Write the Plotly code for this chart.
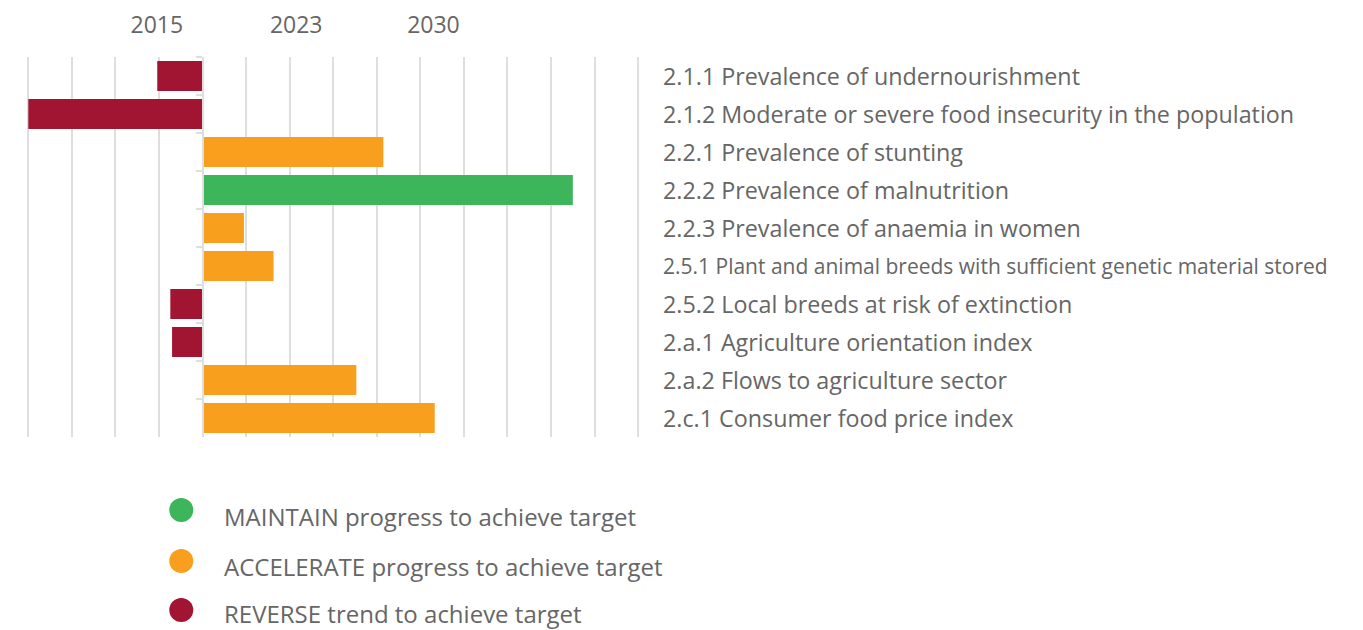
import plotly.graph_objects as go

# ---- data ----
categories = [
    "2.1.1 Prevalence of undernourishment",
    "2.1.2 Moderate or severe food insecurity in the population",
    "2.2.1 Prevalence of stunting",
    "2.2.2 Prevalence of malnutrition",
    "2.2.3 Prevalence of anaemia in women",
    "2.5.1 Plant and animal breeds with sufficient genetic material stored",
    "2.5.2 Local breeds at risk of extinction",
    "2.a.1 Agriculture orientation index",
    "2.a.2 Flows to agriculture sector",
    "2.c.1 Consumer food price index",
]
values = [-1.04, -4.0, 4.15, 8.5, 0.95, 1.63, -0.74, -0.70, 3.53, 5.33]
status = ["REVERSE", "REVERSE", "ACCELERATE", "MAINTAIN", "ACCELERATE",
          "ACCELERATE", "REVERSE", "REVERSE", "ACCELERATE", "ACCELERATE"]
year_labels = ["2015", "2023", "2030"]
year_positions = [-1.05, 2.15, 5.3]
legend_order = ["MAINTAIN", "ACCELERATE", "REVERSE"]
legend_texts = {
    "MAINTAIN": "MAINTAIN progress to achieve target",
    "ACCELERATE": "ACCELERATE progress to achieve target",
    "REVERSE": "REVERSE trend to achieve target",
}

# ---- styles ----
colors = {"MAINTAIN": "#3DB55A", "ACCELERATE": "#F89F1E", "REVERSE": "#A11532"}
text_color = "#666666"
grid_color = "#DEDEDE"
font_family = "Open Sans, Lato, sans-serif"

OFF = 8  # page body margin in the browser
W, H = 1363, 630
grid_min, grid_max = -4, 10
pad = 0.03
x_range = [grid_min - pad, grid_max + pad]
px_per_unit = (638 - 28) / (grid_max - grid_min)
plot_left_px = 28 - pad * px_per_unit
plot_right_px = 638 + pad * px_per_unit
plot_top_px, plot_bottom_px = 57, 437
ML = plot_left_px - OFF
MT = plot_top_px - OFF
MB = H - (plot_bottom_px - OFF)
MR = 20
paper_w = W - ML - MR
paper_h = H - MT - MB
dom_end = (plot_right_px - plot_left_px) / paper_w
zero_pos = (0 - x_range[0]) / (x_range[1] - x_range[0]) * dom_end


def px_to_paper_x(px):
    return (px - OFF - ML) / paper_w


def px_to_paper_y(py):
    return (H - MB - (py - OFF)) / paper_h


fig = go.Figure()

for s in legend_order:
    xs = [v for v, st in zip(values, status) if st == s]
    ys = [c for c, st in zip(categories, status) if st == s]
    fig.add_trace(go.Bar(
        x=xs, y=ys, orientation="h", name=legend_texts[s],
        marker=dict(color=colors[s], line=dict(width=0)),
        showlegend=False, hoverinfo="x+y",
    ))

# invisible trace to activate the top axis
fig.add_trace(go.Scatter(x=[None], y=[None], xaxis="x2", showlegend=False,
                         hoverinfo="skip"))

# category labels on the right
label_x = px_to_paper_x(661)
for c in categories:
    size = 21 if len(c) > 60 else 23.3
    fig.add_annotation(
        x=label_x, xref="paper", y=c, yref="y",
        text=c, showarrow=False, xanchor="left", yanchor="middle",
        font=dict(size=size, color=text_color, family=font_family),
    )

# legend (drawn as circles + text)
legend_marker_y = [510, 561, 610]
legend_text_y = [516, 566, 613]
for s, my, ty in zip(legend_order, legend_marker_y, legend_text_y):
    fig.add_shape(
        type="circle", xref="paper", yref="paper",
        xsizemode="pixel", ysizemode="pixel",
        xanchor=px_to_paper_x(181), yanchor=px_to_paper_y(my),
        x0=-12, x1=12, y0=-12, y1=12,
        fillcolor=colors[s], line=dict(width=0),
    )
    fig.add_annotation(
        x=px_to_paper_x(222), xref="paper", y=px_to_paper_y(ty), yref="paper",
        text=legend_texts[s], showarrow=False, xanchor="left", yanchor="middle",
        font=dict(size=24, color=text_color, family=font_family),
    )

fig.update_layout(
    width=W, height=H,
    margin=dict(l=ML, r=MR, t=MT, b=MB, autoexpand=False),
    paper_bgcolor="white", plot_bgcolor="white",
    barmode="overlay", bargap=0.21,
    font=dict(family=font_family, color=text_color),
    showlegend=False,
    xaxis=dict(
        domain=[0, dom_end], range=x_range,
        tickmode="linear", tick0=0, dtick=1,
        showgrid=True, gridcolor=grid_color, gridwidth=1.5,
        zeroline=False, showticklabels=False, ticks="",
        showline=False, fixedrange=True,
    ),
    xaxis2=dict(
        domain=[0, dom_end], range=x_range, overlaying="x", side="top",
        anchor="y", tickmode="array", tickvals=year_positions,
        ticktext=year_labels, showgrid=False, zeroline=False,
        ticks="", ticklabelstandoff=18,
        tickfont=dict(size=23, color=text_color, family=font_family),
        showline=False,
    ),
    yaxis=dict(
        categoryorder="array", categoryarray=categories,
        autorange="reversed", showticklabels=False,
        anchor="free", position=zero_pos,
        showline=True, linecolor=grid_color, linewidth=1.5,
        ticks="outside", ticklen=6, tickcolor=grid_color, tickwidth=1.5,
        tickson="boundaries", showgrid=False, zeroline=False,
    ),
)

fig.write_html("out.html")
